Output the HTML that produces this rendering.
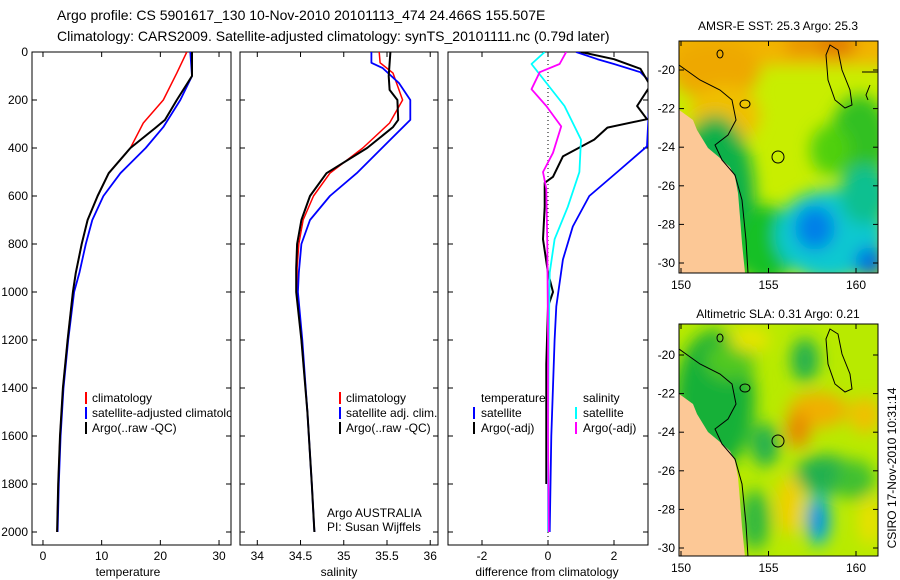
<!DOCTYPE html>
<html><head><meta charset="utf-8"><style>
body{margin:0;background:#fff;}
svg{display:block;font-family:"Liberation Sans",sans-serif;}
</style></head><body>
<svg id="fig" width="900" height="580" viewBox="0 0 900 580" xmlns="http://www.w3.org/2000/svg">
<defs>
<clipPath id="c1"><rect x="32" y="52" width="199" height="493"/></clipPath>
<clipPath id="c2"><rect x="240" y="52" width="198" height="493"/></clipPath>
<clipPath id="c3"><rect x="448" y="52" width="200" height="493"/></clipPath>
<clipPath id="m1"><rect x="679" y="41" width="199" height="232"/></clipPath>
<clipPath id="m2"><rect x="679" y="324" width="199" height="232"/></clipPath>
<filter id="bl" x="-50%" y="-50%" width="200%" height="200%"><feGaussianBlur stdDeviation="8"/></filter>
</defs>
<text x="57" y="20" font-size="14">Argo profile: CS 5901617_130 10-Nov-2010 20101113_474 24.466S 155.507E</text>
<text x="57" y="41" font-size="14">Climatology: CARS2009. Satellite-adjusted climatology: synTS_20101111.nc (0.79d later)</text>

<!-- Map 1 -->
<g clip-path="url(#m1)">
<rect x="679" y="41" width="199" height="232" fill="#c8ee00"/>
<g filter="url(#bl)">
<rect x="660" y="20" width="240" height="45" fill="#f2b400"/>
<ellipse cx="715" cy="70" rx="45" ry="30" fill="#eea800"/>
<ellipse cx="725" cy="115" rx="35" ry="30" fill="#f0c000"/>
<ellipse cx="800" cy="45" rx="15" ry="10" fill="#e89000"/>
<ellipse cx="835" cy="45" rx="22" ry="12" fill="#e07800"/>
<ellipse cx="860" cy="140" rx="30" ry="45" fill="#30c020"/>
<ellipse cx="830" cy="150" rx="20" ry="25" fill="#50d010"/>
<ellipse cx="715" cy="200" rx="40" ry="85" fill="#10b048"/>
<ellipse cx="765" cy="245" rx="30" ry="40" fill="#18c028"/>
<ellipse cx="830" cy="235" rx="55" ry="45" fill="#10c8d0"/>
<ellipse cx="865" cy="195" rx="25" ry="30" fill="#10c090"/>
<ellipse cx="815" cy="228" rx="20" ry="22" fill="#0080e8"/>
<ellipse cx="870" cy="262" rx="15" ry="15" fill="#0070e0"/>
</g>
<polygon points="679,110 682,112 693,120 697,130 708,148 720,158 730,167 735,177 738,193 740,217 742,243 745,273 679,273" fill="#fcc896"/>
<path d="M679,65 L700,80 L720,90 L732,100 L736,120 L728,135 L715,145 L722,160 L735,175 L742,200 L746,240 L748,273" fill="none" stroke="#000" stroke-width="1"/>
<path d="M830,45 L838,50 L842,70 L850,90 L852,105 L845,108 L835,100 L828,80 L826,55 Z" fill="none" stroke="#000" stroke-width="1"/>
<path d="M862,72 L878,72 M870,85 L866,95 L868,100" fill="none" stroke="#000" stroke-width="1"/>
<ellipse cx="745" cy="104" rx="5" ry="4" fill="none" stroke="#000"/>
<ellipse cx="720" cy="54" rx="3" ry="4" fill="none" stroke="#000"/>
<circle cx="778" cy="157" r="6" fill="none" stroke="#000"/>
</g>
<rect x="679" y="41" width="199" height="232" fill="none" stroke="#000"/>
<text x="778" y="30" font-size="12" text-anchor="middle">AMSR-E SST: 25.3 Argo: 25.3</text>

<!-- Map 2 -->
<g clip-path="url(#m2)">
<rect x="679" y="324" width="199" height="232" fill="#b8ea00"/>
<g filter="url(#bl)">
<ellipse cx="715" cy="400" rx="40" ry="70" fill="#18b038"/>
<ellipse cx="730" cy="360" rx="25" ry="20" fill="#50c820"/>
<ellipse cx="750" cy="340" rx="20" ry="12" fill="#e8e400"/>
<ellipse cx="805" cy="360" rx="14" ry="22" fill="#20b050"/>
<ellipse cx="818" cy="410" rx="30" ry="18" fill="#f0b000"/>
<ellipse cx="798" cy="430" rx="12" ry="18" fill="#e88800"/>
<ellipse cx="865" cy="415" rx="16" ry="18" fill="#f0c000"/>
<ellipse cx="765" cy="445" rx="14" ry="22" fill="#20b050"/>
<ellipse cx="825" cy="475" rx="30" ry="20" fill="#20b050"/>
<ellipse cx="790" cy="505" rx="14" ry="30" fill="#f0d000"/>
<ellipse cx="818" cy="520" rx="12" ry="26" fill="#00c0d0"/>
<ellipse cx="818" cy="520" rx="7" ry="18" fill="#0080f0"/>
<ellipse cx="855" cy="480" rx="20" ry="20" fill="#40c030"/>
<ellipse cx="870" cy="520" rx="12" ry="25" fill="#e8e000"/>
<ellipse cx="755" cy="520" rx="15" ry="30" fill="#30b840"/>
</g>
<polygon points="679,394 682,396 693,404 697,414 708,432 720,442 730,451 735,461 738,477 740,501 742,527 745,557 679,557" fill="#fcc896"/>
<path d="M679,349 L700,364 L720,374 L732,384 L736,404 L728,419 L715,429 L722,444 L735,459 L742,484 L746,524 L748,557" fill="none" stroke="#000" stroke-width="1"/>
<path d="M830,329 L838,334 L842,354 L850,374 L852,389 L845,392 L835,384 L828,364 L826,339 Z" fill="none" stroke="#000" stroke-width="1"/>
<ellipse cx="745" cy="388" rx="5" ry="4" fill="none" stroke="#000"/>
<ellipse cx="720" cy="338" rx="3" ry="4" fill="none" stroke="#000"/>
<circle cx="778" cy="441" r="6" fill="none" stroke="#000"/>
</g>
<rect x="679" y="324" width="199" height="232" fill="none" stroke="#000"/>
<text x="778" y="318" font-size="12" text-anchor="middle">Altimetric SLA: 0.31 Argo: 0.21</text>
<text transform="translate(896,468) rotate(-90)" font-size="12" text-anchor="middle">CSIRO 17-Nov-2010 10:31:14</text>

<g id="axes"></g>
<g id="marks"></g>

<!-- legends -->
<g font-size="12" clip-path="url(#c1)">
<line x1="86" y1="392" x2="86" y2="404" stroke="#f00" stroke-width="2"/><text x="92" y="402">climatology</text>
<line x1="86" y1="407" x2="86" y2="419" stroke="#00f" stroke-width="2"/><text x="92" y="417">satellite-adjusted climatology</text>
<line x1="86" y1="422" x2="86" y2="434" stroke="#000" stroke-width="2"/><text x="92" y="432">Argo(..raw -QC)</text>
</g>
<g font-size="12">
<line x1="340" y1="392" x2="340" y2="404" stroke="#f00" stroke-width="2"/><text x="346" y="402">climatology</text>
<line x1="340" y1="407" x2="340" y2="419" stroke="#00f" stroke-width="2"/><text x="346" y="417">satellite adj. clim.</text>
<line x1="340" y1="422" x2="340" y2="434" stroke="#000" stroke-width="2"/><text x="346" y="432">Argo(..raw -QC)</text>
<text x="327" y="517">Argo AUSTRALIA</text>
<text x="327" y="531">PI: Susan Wijffels</text>
</g>
<g font-size="12">
<text x="481" y="402">temperature</text><text x="583" y="402">salinity</text>
<line x1="474" y1="407" x2="474" y2="419" stroke="#00f" stroke-width="2"/><text x="481" y="417">satellite</text>
<line x1="474" y1="422" x2="474" y2="434" stroke="#000" stroke-width="2"/><text x="481" y="432">Argo(-adj)</text>
<line x1="576" y1="407" x2="576" y2="419" stroke="#0ff" stroke-width="2"/><text x="583" y="417">satellite</text>
<line x1="576" y1="422" x2="576" y2="434" stroke="#f0f" stroke-width="2"/><text x="583" y="432">Argo(-adj)</text>
</g>
</svg>
<script>
// ---- data ----
const depthClimT = [0,88,200,296,400,505,600,700,800,920,1000,1200,1400,1600,1800,2000];
const tempClim = [24.5,22.8,20.5,17.1,14.9,11.2,9.3,7.6,6.6,5.6,5.1,4.2,3.4,2.9,2.6,2.4];
const depthArgoT = [0,100,200,283,317,400,505,600,700,800,920,1000,1200,1400,1600,1800,2000];
const tempArgo = [25.4,25.4,22.8,20.8,19.1,14.9,11.2,9.3,7.6,6.6,5.6,5.1,4.2,3.4,2.9,2.6,2.4];
const depthSatT = [0,100,200,313,400,505,600,700,800,920,1000,1200,1400,1600,1800,2000];
const tempSat = [25.1,25.4,23.4,20.5,17.5,13.2,10.3,8.4,7.3,6.2,5.3,4.3,3.5,3.0,2.7,2.5];

const depthClimS = [0,45,88,200,296,400,505,600,700,800,900,1000,1200,1500,1800,2000];
const salClim = [35.41,35.42,35.57,35.68,35.53,35.22,34.84,34.65,34.53,34.48,34.46,34.46,34.51,34.58,34.63,34.66];
const depthArgoS = [0,100,158,200,283,313,400,505,600,700,800,900,1000,1200,1500,1800,2000];
const salArgo = [35.54,35.52,35.53,35.62,35.63,35.57,35.27,34.80,34.61,34.51,34.46,34.45,34.45,34.51,34.58,34.63,34.66];
const depthSatS = [0,45,67,130,200,283,365,505,600,700,800,920,1000,1200,1500,1800,2000];
const salSat = [35.32,35.32,35.45,35.64,35.77,35.77,35.54,35.15,34.84,34.61,34.51,34.48,34.47,34.52,34.58,34.63,34.66];

const depthDiffT = [0,30,70,140,225,280,315,365,435,520,545,645,780,920,1000,1060,1300,1600,1800];
const diffTArgo = [1.0,2.0,2.8,3.1,2.7,3.0,1.8,1.4,0.45,0.15,-0.1,-0.1,-0.15,0,0.15,0,-0.05,-0.05,-0.05];
const depthDiffTSat = [0,30,50,84,125,393,500,600,727,865,1060,1200,1600,2000];
const diffTSat = [0.85,1.5,2.0,2.8,3.1,3.0,2.1,1.25,0.75,0.45,0.25,0.2,0.1,0.05];
const depthDiffS = [0,50,225,365,500,645,780,920,1200,1600,2000];
const diffSSat = [-0.1,-0.5,0.5,1.0,0.95,0.6,0.2,0.05,0.02,0.0,0.0];
const depthDiffSArgo = [0,50,84,155,225,310,420,500,570,800,1200,1600,2000];
const diffSArgo = [0.55,0.35,-0.25,-0.5,-0.05,0.4,0.15,-0.15,-0.05,-0.02,0.0,0.0,0.02];

const depthTicks = [0,200,400,600,800,1000,1200,1400,1600,1800,2000];
const tempTicks = [0,10,20,30];
const salTicks = [34,34.5,35,35.5,36];
const salTickLabels = ["34","34.5","35","35.5","36"];
const diffTicks = [-2,0,2];
const latTicks = [-20,-22,-24,-26,-28,-30];
const lonTicks = [150,155,160];

// ---- scales ----
const Y0=52, Y1=545;
const yD = d => 52 + d*0.24;
const panels = [
  {x0:32,x1:231,lo:-1.87,hi:32.04,clip:'c1',name:'temperature'},
  {x0:240,x1:438,lo:33.80,hi:36.09,clip:'c2',name:'salinity'},
  {x0:448,x1:648,lo:-3.03,hi:3.03,clip:'c3',name:'difference'}
];
const xS = (p,v) => p.x0 + (v-p.lo)/(p.hi-p.lo)*(p.x1-p.x0);
const NS='http://www.w3.org/2000/svg';
const axes=document.getElementById('axes'), marks=document.getElementById('marks');
function mk(tag,attrs,parent){const e=document.createElementNS(NS,tag);for(const k in attrs)e.setAttribute(k,attrs[k]);parent.appendChild(e);return e;}

panels.forEach((p,i)=>{
  const fr=mk('rect',{x:p.x0,y:Y0,width:p.x1-p.x0,height:Y1-Y0,fill:'none',stroke:'#000'},axes);
  
  
  depthTicks.forEach(d=>{
    mk('line',{x1:p.x0,x2:p.x0+5,y1:yD(d),y2:yD(d),stroke:'#000'},axes);
    mk('line',{x1:p.x1-5,x2:p.x1,y1:yD(d),y2:yD(d),stroke:'#000'},axes);
    if(i===0){const t=mk('text',{x:p.x0-4,y:yD(d)+4,'font-size':12,'text-anchor':'end'},axes);t.textContent=d;
      
      }
  });
});
function xticks(p,vals,labels){vals.forEach((v,j)=>{const x=xS(p,v);
  mk('line',{x1:x,x2:x,y1:Y0,y2:Y0+5,stroke:'#000'},axes);mk('line',{x1:x,x2:x,y1:Y1-5,y2:Y1,stroke:'#000'},axes);
  const t=mk('text',{x:x,y:560,'font-size':12,'text-anchor':'middle'},axes);t.textContent=labels?labels[j]:v;
  
  });}
xticks(panels[0],tempTicks);xticks(panels[1],salTicks,salTickLabels);xticks(panels[2],diffTicks);
[['temperature',128],['salinity',339],['difference from climatology',547]].forEach(a=>{
  const t=mk('text',{x:a[1],y:576,'font-size':12,'text-anchor':'middle'},axes);t.textContent=a[0];
  
  });
const zl=mk('line',{x1:xS(panels[2],0),x2:xS(panels[2],0),y1:Y0,y2:Y1,stroke:'#000','stroke-dasharray':'1,3'},axes);



function series(p,ds,vs,color,w,name){
  const g=document.createElementNS(NS,'g');g.setAttribute('clip-path','url(#'+p.clip+')');marks.appendChild(g);
  const pts=ds.map((d,k)=>xS(p,vs[k]).toFixed(1)+','+yD(d).toFixed(1)).join(' ');
  const l=mk('polyline',{points:pts,fill:'none',stroke:color,'stroke-width':w,'stroke-linejoin':'round'},g);
  
  
}
series(panels[0],depthClimT,tempClim,'#f00',1.5,'temperature-climatology-line');
series(panels[0],depthSatT,tempSat,'#00f',1.8,'temperature-satellite-line');
series(panels[0],depthArgoT,tempArgo,'#000',2,'temperature-argo-line');
series(panels[1],depthClimS,salClim,'#f00',1.5,'salinity-climatology-line');
series(panels[1],depthSatS,salSat,'#00f',1.8,'salinity-satellite-line');
series(panels[1],depthArgoS,salArgo,'#000',2,'salinity-argo-line');
series(panels[2],depthDiffTSat,diffTSat,'#00f',1.8,'temp-diff-satellite-line');
series(panels[2],depthDiffT,diffTArgo,'#000',2,'temp-diff-argo-line');
series(panels[2],depthDiffS,diffSSat,'#0ff',1.8,'sal-diff-satellite-line');
series(panels[2],depthDiffSArgo,diffSArgo,'#f0f',1.8,'sal-diff-argo-line');

// map ticks
[[41,70],[324,355]].forEach(([top,y20])=>{
  const bottom=top+232;
  latTicks.forEach(la=>{const y=y20+(-20-la)*19.3;
    mk('line',{x1:679,x2:684,y1:y,y2:y,stroke:'#000'},axes);mk('line',{x1:873,x2:878,y1:y,y2:y,stroke:'#000'},axes);
    const t=mk('text',{x:675,y:y+4,'font-size':12,'text-anchor':'end'},axes);t.textContent=la;
    
    });
  lonTicks.forEach(lo=>{const x=681+(lo-150)*17.5;
    mk('line',{x1:x,x2:x,y1:top,y2:top+5,stroke:'#000'},axes);mk('line',{x1:x,x2:x,y1:bottom-5,y2:bottom,stroke:'#000'},axes);
    const t=mk('text',{x:x,y:bottom+16,'font-size':12,'text-anchor':'middle'},axes);t.textContent=lo;
    
    });
});
</script>
</body></html>
